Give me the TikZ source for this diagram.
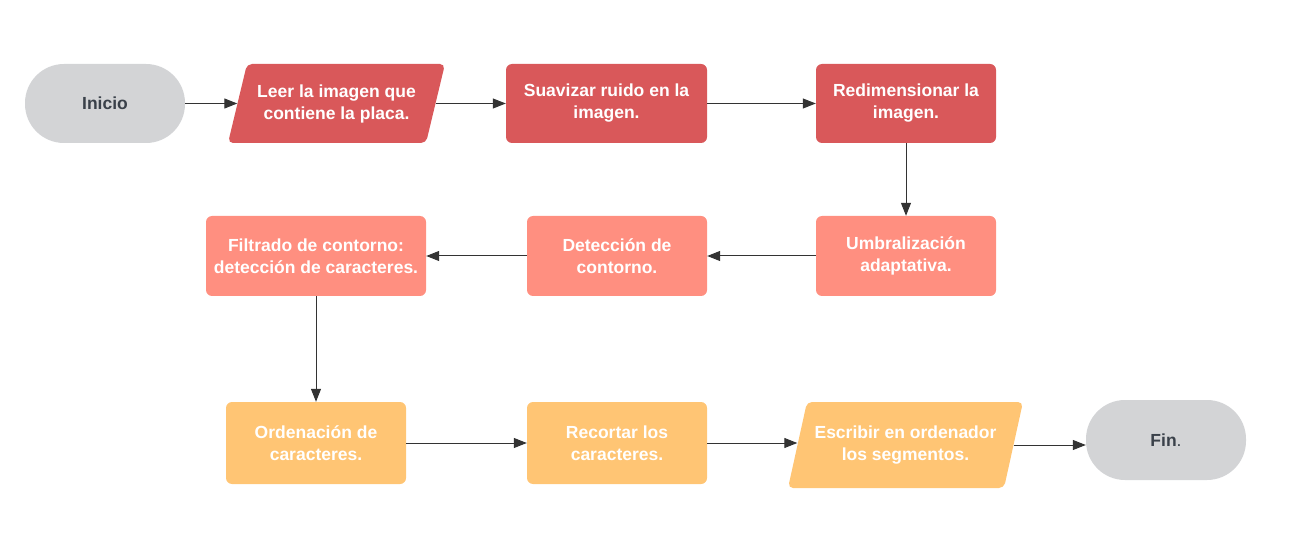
\documentclass[tikz,border=0pt]{standalone}
\usepackage{fontspec}
\setmainfont{Liberation Sans}
\usetikzlibrary{calc,arrows.meta}
\definecolor{rojo}{HTML}{D9585A}
\definecolor{salmon}{HTML}{FF8F80}
\definecolor{naranja}{HTML}{FFC574}
\definecolor{gris}{HTML}{D3D4D6}
\definecolor{textogris}{HTML}{3A414A}
\definecolor{flecha}{HTML}{333333}
\tikzset{
	texto/.style={font=\bfseries\fontsize{17.5}{22}\selectfont, align=center, inner sep=0pt},
	proceso/.style={texto, rectangle, rounded corners=6pt, text=white, draw=none},
	terminal/.style={texto, rectangle, rounded corners=39pt, fill=gris, text=textogris, minimum width=160pt},
	flujo/.style={draw=flecha, line width=1pt, -{Triangle[length=13pt,width=10pt]}}
}
% paralelogramo: nombre, centro, ancho, alto, color, texto
\newcommand{\paralelo}[6]{
	\fill[#5, rounded corners=5pt] ($(#2)+({-#3/2},{#4/2})$) -- ($(#2)+({-#3/2+19},{-#4/2})$)
		-- ($(#2)+({#3/2},{-#4/2})$) -- ($(#2)+({#3/2-19},{#4/2})$) -- cycle;
	\node[texto, text=white, minimum width=#3pt-19pt, minimum height=#4pt] (#1) at (#2) {#6};
}

\begin{document}
\begin{tikzpicture}[x=1pt,y=-1pt]
	\useasboundingbox (0,0) rectangle (1290,545);

	% fila 1
	\node[terminal, minimum height=79pt] (inicio) at (105,103.5) {Inicio};
	\paralelo{leer}{336.5,103.5}{217}{79}{rojo}{Leer la imagen que\\contiene la placa.}
	\node[proceso, fill=rojo, minimum width=201pt, minimum height=79pt] (suavizar) at (606.5,103.5) {Suavizar ruido en la\\imagen.};
	\node[proceso, fill=rojo, minimum width=180pt, minimum height=79pt] (redim) at (906,103.5) {Redimensionar la\\imagen.};

	% fila 2
	\node[proceso, fill=salmon, minimum width=180pt, minimum height=80pt] (umbral) at (906,256) {Umbralización\\adaptativa.};
	\node[proceso, fill=salmon, minimum width=180pt, minimum height=80pt] (deteccion) at (617,256) {Detección de\\contorno.};
	\node[proceso, fill=salmon, minimum width=220pt, minimum height=80pt] (filtrado) at (316,256) {Filtrado de contorno:\\detección de caracteres.};

	% fila 3
	\node[proceso, fill=naranja, minimum width=180pt, minimum height=82pt] (orden) at (316,443) {Ordenación de\\caracteres.};
	\node[proceso, fill=naranja, minimum width=180pt, minimum height=82pt] (recortar) at (617,443) {Recortar los\\caracteres.};
	\paralelo{escribir}{905.5,445}{235}{86}{naranja}{Escribir en ordenador\\los segmentos.}
	\node[terminal, minimum height=80pt] (fin) at (1166,440) {Fin\mdseries.};

	\draw[flujo] (inicio) -- (leer);
	\draw[flujo] (leer) -- (suavizar);
	\draw[flujo] (suavizar) -- (redim);
	\draw[flujo] (redim) -- (umbral);
	\draw[flujo] (umbral) -- (deteccion);
	\draw[flujo] (deteccion) -- (filtrado);
	\draw[flujo] (filtrado) -- (orden);
	\draw[flujo] (orden) -- (recortar);
	\draw[flujo] (recortar.east) -- (recortar.east -| escribir.west);
	\draw[flujo] (escribir.east) -- (escribir.east -| fin.west);
\end{tikzpicture}
\end{document}
